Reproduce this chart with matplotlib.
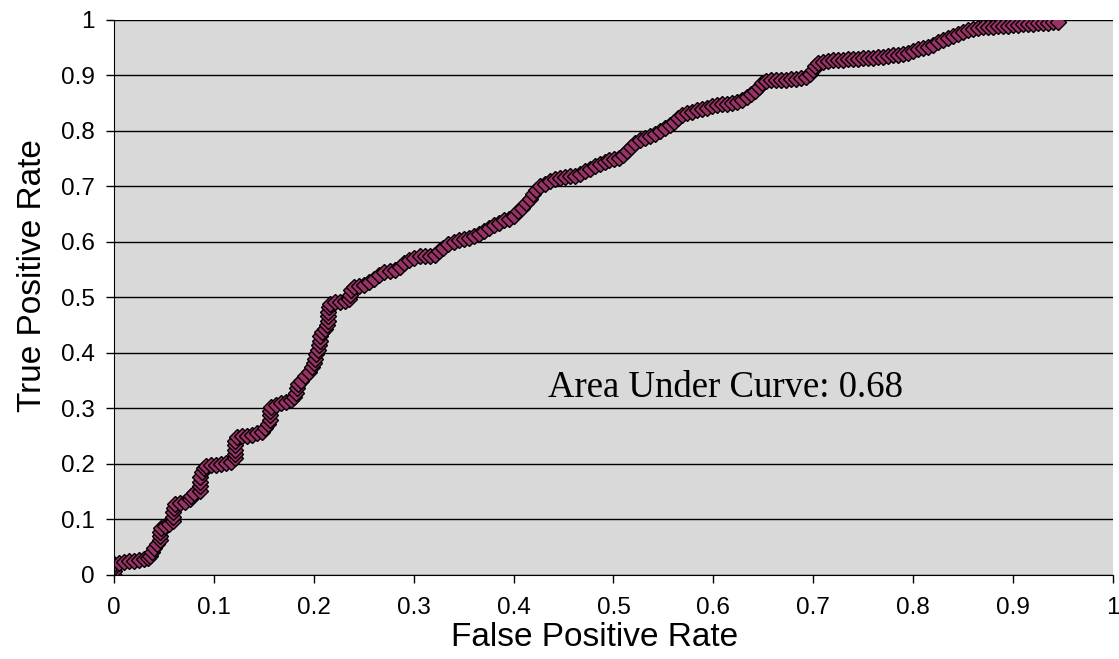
import matplotlib
matplotlib.use("Agg")
import matplotlib.pyplot as plt

# ROC points (false positive rate, true positive rate)
fpr = [0, 0, 0, 0,
       0.005, 0.01, 0.015, 0.02, 0.025, 0.03, 0.034,
       0.036, 0.038, 0.04, 0.043, 0.046, 0.046, 0.046, 0.047,
       0.051, 0.055, 0.059, 0.059, 0.059, 0.06, 0.061,
       0.066, 0.071, 0.076, 0.077, 0.08, 0.086, 0.086, 0.086, 0.086, 0.088, 0.09, 0.092,
       0.097, 0.102, 0.107, 0.112, 0.117, 0.121, 0.121, 0.121, 0.121, 0.121, 0.123,
       0.128, 0.133, 0.138, 0.143, 0.148, 0.151, 0.154, 0.156, 0.156, 0.156, 0.157,
       0.162, 0.167, 0.172, 0.177, 0.18, 0.182, 0.183, 0.184, 0.187, 0.191, 0.195, 0.198,
       0.2, 0.201, 0.202, 0.204, 0.205, 0.206, 0.206, 0.208, 0.211, 0.213, 0.214, 0.214,
       0.214, 0.215, 0.216,
       0.221, 0.226, 0.231, 0.235, 0.236, 0.237, 0.24,
       0.245, 0.25, 0.255, 0.26, 0.265, 0.27, 0.276, 0.281, 0.286, 0.29, 0.295, 0.3,
       0.306, 0.311, 0.316, 0.321, 0.325, 0.329, 0.334, 0.34, 0.345, 0.35, 0.355, 0.36,
       0.365, 0.37, 0.375, 0.38, 0.385, 0.39, 0.395, 0.4, 0.404, 0.408, 0.412, 0.416,
       0.419, 0.422, 0.426, 0.431, 0.436, 0.441, 0.446, 0.451, 0.456, 0.461, 0.466,
       0.471, 0.476, 0.481, 0.486, 0.491, 0.496, 0.501, 0.506, 0.51, 0.514, 0.518,
       0.522, 0.527, 0.532, 0.537, 0.542, 0.547, 0.552, 0.557, 0.561, 0.565, 0.569,
       0.574, 0.579, 0.584, 0.589, 0.594, 0.599, 0.604, 0.609, 0.614, 0.619, 0.624,
       0.629, 0.634, 0.638, 0.642, 0.646, 0.649, 0.653, 0.658, 0.663, 0.668, 0.673,
       0.678, 0.683, 0.688, 0.693, 0.697, 0.7, 0.702, 0.705, 0.71, 0.715, 0.72, 0.725,
       0.73, 0.735, 0.74, 0.745, 0.75, 0.755, 0.76, 0.765, 0.77, 0.775, 0.78, 0.785,
       0.79, 0.795, 0.8, 0.805, 0.81, 0.815, 0.82, 0.825, 0.83, 0.835, 0.84, 0.845,
       0.85, 0.855, 0.86, 0.865, 0.87, 0.875, 0.88, 0.885, 0.89, 0.895, 0.9, 0.905,
       0.91, 0.915, 0.92, 0.925, 0.93, 0.935, 0.94, 0.945]
tpr = [0, 0.007, 0.014, 0.02,
       0.022, 0.023, 0.025, 0.026, 0.027, 0.028, 0.03,
       0.035, 0.042, 0.048, 0.055, 0.063, 0.07, 0.078, 0.085,
       0.088, 0.092, 0.097, 0.105, 0.113, 0.121, 0.128,
       0.13, 0.132, 0.136, 0.143, 0.148, 0.152, 0.16, 0.168, 0.176, 0.185, 0.192, 0.197,
       0.198, 0.199, 0.2, 0.201, 0.203, 0.21, 0.218, 0.226, 0.234, 0.242, 0.248,
       0.25, 0.251, 0.253, 0.255, 0.258, 0.265, 0.272, 0.28, 0.288, 0.296, 0.303,
       0.307, 0.31, 0.312, 0.315, 0.32, 0.328, 0.336, 0.344, 0.35, 0.358, 0.366, 0.374,
       0.382, 0.39, 0.398, 0.406, 0.414, 0.422, 0.43, 0.438, 0.444, 0.45, 0.458, 0.466,
       0.474, 0.482, 0.489,
       0.491, 0.492, 0.493, 0.497, 0.505, 0.513, 0.518,
       0.52, 0.523, 0.527, 0.533, 0.54, 0.545, 0.548, 0.55, 0.555, 0.562, 0.568, 0.572,
       0.574, 0.575, 0.575, 0.577, 0.583, 0.59, 0.597, 0.6, 0.603, 0.605, 0.607, 0.61,
       0.615, 0.62, 0.625, 0.63, 0.635, 0.639, 0.642, 0.647, 0.655, 0.662, 0.67, 0.678,
       0.686, 0.694, 0.7, 0.705, 0.709, 0.713, 0.716, 0.717, 0.718, 0.719, 0.722,
       0.727, 0.732, 0.737, 0.741, 0.744, 0.747, 0.749, 0.752, 0.757, 0.764, 0.771,
       0.778, 0.784, 0.788, 0.791, 0.795, 0.8, 0.805, 0.81, 0.816, 0.823, 0.829,
       0.833, 0.835, 0.837, 0.839, 0.842, 0.845, 0.847, 0.848, 0.849, 0.85, 0.852,
       0.856, 0.861, 0.866, 0.872, 0.879, 0.886, 0.89, 0.891, 0.891, 0.891, 0.892,
       0.893, 0.894, 0.895, 0.897, 0.903, 0.91, 0.917, 0.922, 0.925, 0.926, 0.927, 0.928,
       0.928, 0.929, 0.929, 0.93, 0.931, 0.932, 0.932, 0.933, 0.934, 0.935, 0.936, 0.937,
       0.938, 0.94, 0.944, 0.947, 0.95, 0.952, 0.955, 0.96, 0.964, 0.967, 0.971, 0.975,
       0.979, 0.982, 0.984, 0.986, 0.987, 0.988, 0.988, 0.989, 0.99, 0.99, 0.991, 0.991,
       0.992, 0.993, 0.993, 0.994, 0.994, 0.995, 0.996, 0.997]

ticks = [0, 0.1, 0.2, 0.3, 0.4, 0.5, 0.6, 0.7, 0.8, 0.9, 1]
tick_labels = ["0", "0.1", "0.2", "0.3", "0.4", "0.5", "0.6", "0.7", "0.8", "0.9", "1"]
auc_text = "Area Under Curve: 0.68"

plt.rcParams["font.family"] = ["Liberation Sans", "DejaVu Sans"]

fig = plt.figure(figsize=(11.19, 6.59), dpi=100)
ax = fig.add_axes([0.1019, 0.1275, 0.8927, 0.8422])
ax.set_facecolor("#d9d9d9")

ax.plot(fpr, tpr, linestyle="none", marker="D", markersize=8.5,
        markerfacecolor="#993366", markeredgecolor="black", markeredgewidth=1.0)

ax.set_xlim(0, 1)
ax.set_ylim(0, 1)
ax.set_xticks(ticks)
ax.set_xticklabels(tick_labels)
ax.set_yticks(ticks)
ax.set_yticklabels(tick_labels)
ax.tick_params(direction="out", length=6, width=1, labelsize=17.5)
ax.tick_params(axis="x", pad=10)
ax.tick_params(axis="y", pad=8)

ax.grid(True, axis="y", color="black", linewidth=1)
ax.set_axisbelow(True)
ax.spines["right"].set_visible(False)
ax.spines["top"].set_visible(False)

ax.set_xlabel("False Positive Rate", fontsize=24)
ax.xaxis.set_label_coords(0.481, -0.085)
ax.set_ylabel("True Positive Rate", fontsize=24)
ax.yaxis.set_label_coords(-0.066, 0.54)

ax.text(0.434, 0.337, auc_text, fontsize=26.5, family=["Liberation Serif", "DejaVu Serif"],
        va="center", ha="left")

fig.savefig("out.png", dpi=100)
